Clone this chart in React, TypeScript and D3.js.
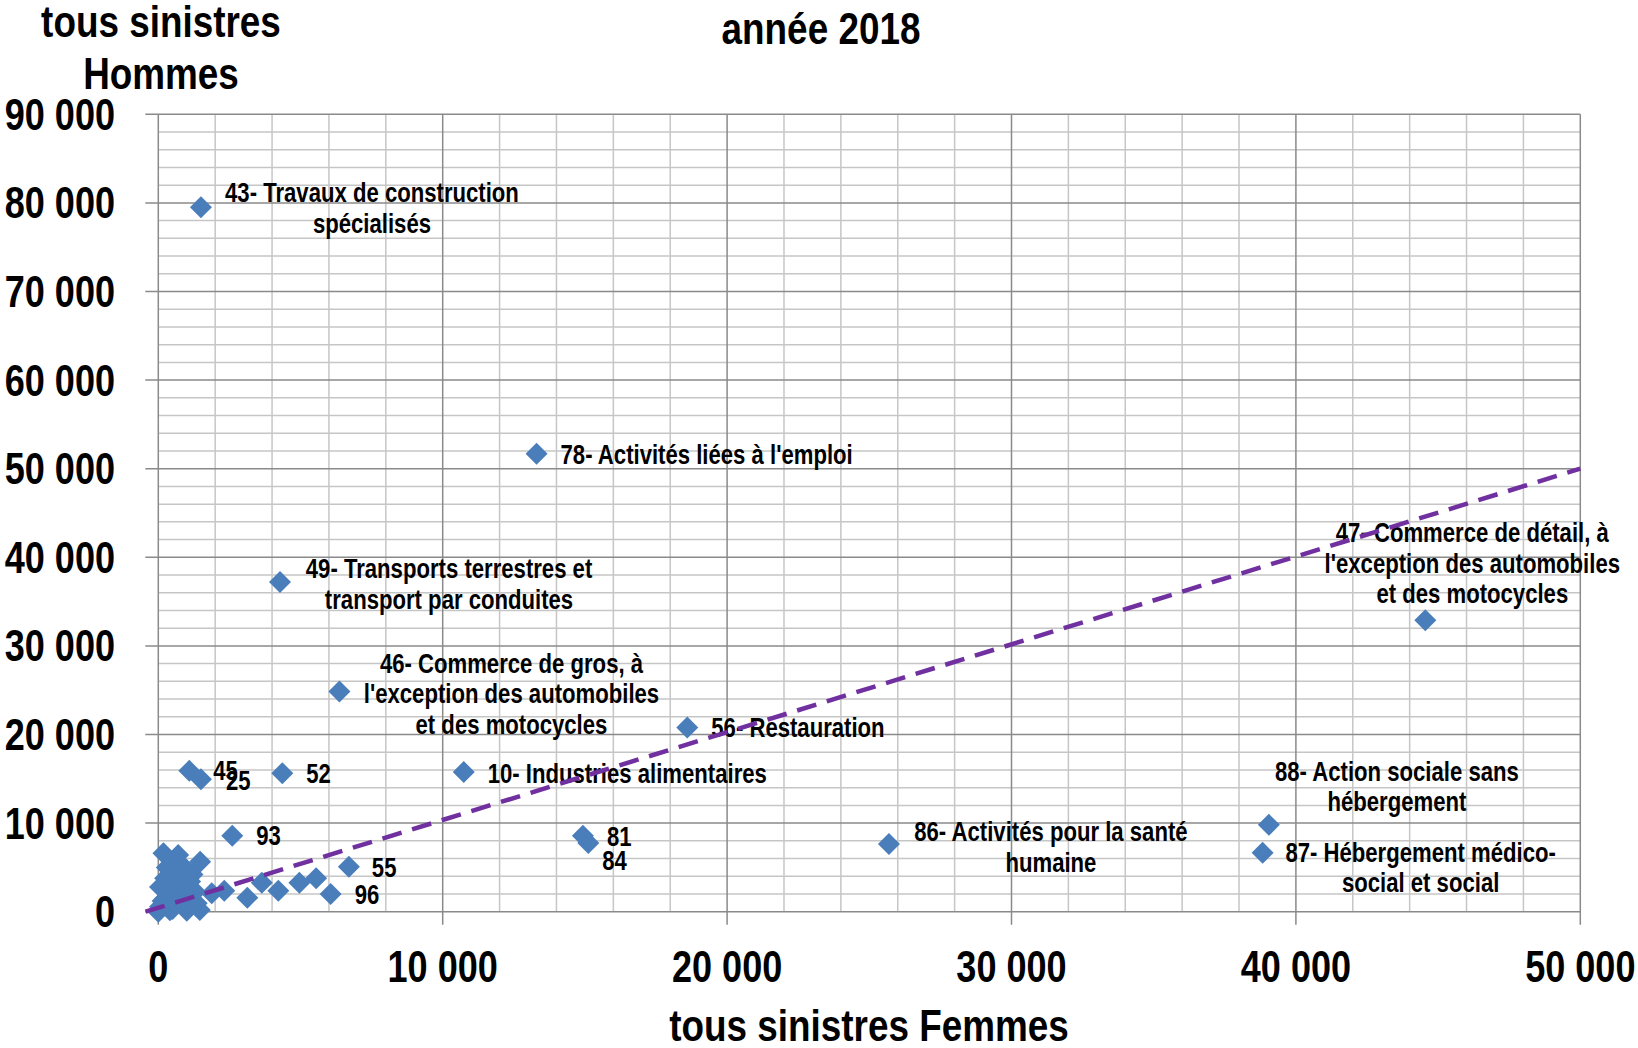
import React from "react";
import * as d3 from "d3";

// ---------- data ----------
const labeledCodes = ["43", "78", "49", "46", "47", "56", "10", "45", "25", "52", "93", "81", "84", "86", "88", "87", "55", "96"];
const labeledLines: string[][] = [
  ["43- Travaux de construction", "spécialisés"],
  ["78- Activités liées à l'emploi"],
  ["49- Transports terrestres et", "transport par conduites"],
  ["46- Commerce de gros, à", "l'exception des automobiles", "et des motocycles"],
  ["47- Commerce de détail, à", "l'exception des automobiles", "et des motocycles"],
  ["56- Restauration"],
  ["10- Industries alimentaires"],
  ["45"],
  ["25"],
  ["52"],
  ["93"],
  ["81"],
  ["84"],
  ["86- Activités pour la santé", "humaine"],
  ["88- Action sociale sans", "hébergement"],
  ["87- Hébergement médico-", "social et social"],
  ["55"],
  ["96"],
];
const labeledFemmes = [1500, 13300, 4280, 6370, 44550, 18600, 10740, 1090, 1500, 4360, 2600, 14930, 15120, 25690, 39050, 38830, 6700, 6060];
const labeledHommes = [79500, 51700, 37200, 24850, 32900, 20800, 15770, 15900, 14950, 15620, 8580, 8570, 7740, 7630, 9800, 6650, 5080, 2000];

const otherFemmes = [1880, 2320, 3130, 3640, 4220, 4960, 5550, 1470, 180, 700, 650, 400, 1000, 1120, 1300, 530, 60, 760, 60, 410, 1000, 1460, 1350, 880, 240, 360, 250, 600, 800, 1200, 300, 900, 1100, 500, 150, 0];
const otherHommes = [2080, 2370, 1580, 3270, 2370, 3270, 3770, 5650, 6600, 6400, 5800, 4700, 4700, 3400, 2250, 2800, 2800, 1300, 560, 150, 120, 200, 950, 3770, 3770, 2800, 1500, 4000, 5200, 4200, 5000, 2000, 1000, 300, 1200, 0];

const refLineFemmes = [-450, 50000];
const refLineHommes = [0, 50000];

const xTicks = [0, 10000, 20000, 30000, 40000, 50000];
const yTicks = [0, 10000, 20000, 30000, 40000, 50000, 60000, 70000, 80000, 90000];

const titleText = "année 2018";
const xTitleText = "tous sinistres Femmes";
const yTitleLines = ["tous sinistres", "Hommes"];

// ---------- layout (label placement, px) ----------
const labelLayout: { anchor: "start" | "middle"; dx: number; dy: number }[] = [
  { anchor: "middle", dx: 171, dy: -5 },
  { anchor: "start", dx: 24, dy: 10 },
  { anchor: "middle", dx: 169, dy: -4 },
  { anchor: "middle", dx: 172, dy: -19 },
  { anchor: "middle", dx: 47, dy: -78 },
  { anchor: "start", dx: 24, dy: 10 },
  { anchor: "start", dx: 24, dy: 11 },
  { anchor: "start", dx: 24, dy: 9 },
  { anchor: "start", dx: 25, dy: 11 },
  { anchor: "start", dx: 24, dy: 10 },
  { anchor: "start", dx: 24, dy: 9 },
  { anchor: "start", dx: 24, dy: 10 },
  { anchor: "start", dx: 14, dy: 27 },
  { anchor: "middle", dx: 162, dy: -3 },
  { anchor: "middle", dx: 128, dy: -44 },
  { anchor: "middle", dx: 158, dy: 9 },
  { anchor: "start", dx: 23, dy: 10 },
  { anchor: "start", dx: 24, dy: 10 },
];

const W = 1638;
const H = 1048;
const FONT = "'Liberation Sans', Arial, sans-serif";
const SQUEEZE = 0.82;

function NText(props: {
  x: number;
  y: number;
  size: number;
  anchor?: "start" | "middle" | "end";
  lines: string[];
  lineHeight?: number;
}) {
  const { x, y, size, anchor = "start", lines, lineHeight = 0 } = props;
  return (
    <g transform={`translate(${x},${y}) scale(${SQUEEZE},1)`}>
      <text x={0} y={0} textAnchor={anchor} fontSize={size} fill="#000" fontWeight="bold" fontFamily={FONT}>
        {lines.map((t, j) => (
          <tspan key={j} x={0} y={j * lineHeight}>
            {t}
          </tspan>
        ))}
      </text>
    </g>
  );
}

export default function App() {
  const x = d3.scaleLinear().domain([0, 50000]).range([158.3, 1580.3]);
  const y = d3.scaleLinear().domain([0, 90000]).range([911.7, 114.3]);

  const minorX = d3.range(0, 50001, 2000);
  const minorY = d3.range(0, 90001, 2000);

  const diamond = d3.symbol().type(d3.symbolSquare).size(242)() as string;

  const line = d3
    .line<number>()
    .x((_, i) => x(refLineFemmes[i]))
    .y((d) => y(d));

  const [x0, x1] = x.range();
  const [y0, y1] = y.range();
  const fmt = (v: number) => d3.format(",")(v).replace(/,/g, " ");

  return (
    <svg width={W} height={H} style={{ position: "absolute", left: 0, top: 0, background: "#fff" }}>
      <rect x={0} y={0} width={W} height={H} fill="#fff" />
      {/* minor grid */}
      {minorX.filter((v) => v % 10000 !== 0).map((v) => (
        <line key={"mx" + v} x1={x(v)} x2={x(v)} y1={y1} y2={y0} stroke="#c6c6c6" strokeWidth={1.5} />
      ))}
      {minorY.filter((v) => v % 10000 !== 0).map((v) => (
        <line key={"my" + v} x1={x0} x2={x1} y1={y(v)} y2={y(v)} stroke="#c6c6c6" strokeWidth={1.5} />
      ))}
      {/* major grid + ticks */}
      {xTicks.map((v) => (
        <line key={"Mx" + v} x1={x(v)} x2={x(v)} y1={y1} y2={y0 + 13} stroke="#8a8a8a" strokeWidth={1.5} />
      ))}
      {yTicks.map((v) => (
        <line key={"My" + v} x1={x0 - 13} x2={x1} y1={y(v)} y2={y(v)} stroke="#8a8a8a" strokeWidth={1.5} />
      ))}

      {/* tick labels */}
      {yTicks.map((v) => (
        <NText key={"yl" + v} x={115} y={y(v) + 15.5} anchor="end" size={44} lines={[fmt(v)]} />
      ))}
      {xTicks.map((v) => (
        <NText key={"xl" + v} x={x(v)} y={981.5} anchor="middle" size={44} lines={[fmt(v)]} />
      ))}

      {/* points */}
      {otherFemmes.map((f, i) => (
        <path key={"o" + i} d={diamond} transform={`translate(${x(f)},${y(otherHommes[i])}) rotate(45)`} fill="#4a7ebb" />
      ))}
      {labeledFemmes.map((f, i) => (
        <path key={"p" + i} d={diamond} transform={`translate(${x(f)},${y(labeledHommes[i])}) rotate(45)`} fill="#4a7ebb" />
      ))}

      {/* labels */}
      {labeledCodes.map((c, i) => {
        const L = labelLayout[i];
        return (
          <NText
            key={"lab" + c}
            x={x(labeledFemmes[i]) + L.dx}
            y={y(labeledHommes[i]) + L.dy}
            anchor={L.anchor}
            size={27}
            lines={labeledLines[i]}
            lineHeight={30.5}
          />
        );
      })}

      {/* reference line y = x */}
      <path d={line(refLineHommes) as string} fill="none" stroke="#7030a0" strokeWidth={4.5} strokeDasharray="20 11" />

      {/* titles */}
      <NText x={821} y={44} anchor="middle" size={45} lines={[titleText]} />
      <NText x={161} y={37} anchor="middle" size={45} lines={yTitleLines} lineHeight={52} />
      <NText x={869} y={1041} anchor="middle" size={45} lines={[xTitleText]} />
    </svg>
  );
}
